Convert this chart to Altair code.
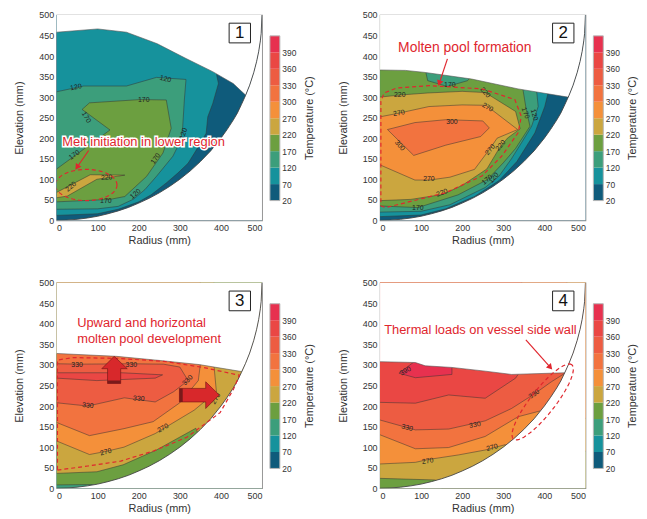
import math
import numpy as np
import pandas as pd
import altair as alt

# ---------------- data ----------------
LEVELS = [20, 70, 120, 170, 220, 270, 300, 330, 360, 390]
COLORS = ["#0f5b7b", "#16929c", "#3c9e7b", "#6c9f40", "#cba63f",
          "#f4903a", "#f2733f", "#ed5c42", "#ea4744", "#e7314f"]
CMAP = dict(zip(LEVELS, COLORS))
TICKS = list(range(0, 501, 50))
RED = "#e0262e"

# vessel wall
WALL = [(0, 0), (25, 0.6), (50, 2.5), (75, 5.7), (100, 10), (125, 16), (150, 23), (175, 31.5),
        (200, 42), (225, 53.5), (250, 67), (275, 82.5), (300, 100), (325, 120), (350, 143),
        (375, 169), (400, 200), (415, 221), (430, 244), (440, 261), (450, 282), (460, 304),
        (470, 329), (480, 360), (487, 387), (492, 411), (496, 437), (498, 455), (500, 500)]
FULL = [(-5, -5), (505, -5), (505, 505), (-5, 505)]

# ---- panel 1 ----
TOP1 = [(0, 458), (100, 466), (170, 458), (245, 430), (315, 394), (380, 362), (430, 333), (460, 305)]
P1 = [
    (20, FULL),
    (70, [(0, 12), (100, 16), (150, 27), (200, 45), (230, 62), (267, 91), (295, 115), (320, 139),
          (340, 171), (364, 212), (368, 252), (380, 284), (394, 333), (390, 352), (388, 505), (0, 505)]),
    (120, [(0, 27), (100, 28), (150, 34), (188, 52), (215, 75), (243, 107), (283, 156), (303, 196),
           (307, 228), (311, 293), (315, 343), (243, 348), (170, 327), (66, 327), (0, 313)]),
    (170, [(0, 45), (130, 51), (166, 58), (219, 107), (259, 164), (279, 224), (267, 293), (203, 294),
           (80, 286), (62, 270), (130, 220), (0, 125)]),
    (220, [(0, 68), (82, 111), (166, 110), (98, 100), (26, 59), (0, 55)]),
]
LBL1 = [("120", 47, 324, 350), ("120", 265, 344, 15), ("170", 212, 294, 0), ("170", 72, 251, 60),
        ("170", 43, 159, 325), ("170", 241, 150, 305), ("170", 120, 48, 0), ("120", 309, 211, 290),
        ("120", 192, 64, 320), ("220", 35, 82, 320), ("220", 122, 104, 355)]

# ---- panel 2 ----
TOP2 = [(0, 366), (62, 365), (110, 360), (223, 344), (336, 320), (457, 300)]
P2 = [
    (20, FULL),
    (70, [(0, 9), (100, 13), (160, 28), (230, 58), (290, 97), (333, 143), (377, 213), (401, 277),
          (409, 310), (409, 505), (0, 505)]),
    (120, [(0, 20), (100, 22), (170, 38), (256, 80), (290, 108), (320, 150), (345, 190), (369, 229),
           (385, 277), (381, 318), (381, 505), (0, 505)]),
    (170, [(0, 35), (92, 31), (190, 62), (261, 99), (300, 140), (330, 175), (365, 229), (356, 269),
           (348, 318), (348, 505), (222, 505), (220, 348), (213, 340), (164, 326), (116, 340),
           (112, 358), (112, 505), (0, 505)]),
    (220, [(0, 48), (75, 51), (152, 63), (200, 85), (260, 125), (290, 175), (310, 200), (341, 223),
           (330, 265), (256, 311), (200, 314), (116, 310), (48, 305), (0, 300)]),
    (270, [(0, 135), (85, 98), (120, 98), (170, 105), (230, 124), (268, 175), (285, 200), (335, 221),
           (258, 280), (200, 281), (119, 277), (46, 261), (0, 252)]),
    (300, [(18, 221), (85, 238), (160, 245), (250, 242), (266, 225), (245, 204), (160, 183), (82, 158)]),
]
LBL2 = [("170", 170, 329, 0), ("220", 48, 305, 0), ("220", 256, 311, 50), ("270", 46, 261, 350),
        ("270", 262, 275, 30), ("300", 175, 240, 0), ("300", 48, 182, 50), ("270", 268, 172, 310),
        ("220", 294, 182, 310), ("270", 119, 100, 0), ("220", 151, 67, 340), ("170", 92, 29, 0),
        ("170", 261, 99, 320), ("120", 277, 103, 310), ("170", 354, 261, 70), ("120", 375, 257, 75)]

# ---- panel 3 ----
TOP3 = [(0, 328), (146, 321), (251, 311), (347, 301), (450, 284)]
P3 = [
    (120, FULL),
    (170, [(0, 8), (90, 9), (120, 0), (505, 0), (505, 505), (0, 505)]),
    (220, [(0, 36), (98, 40), (162, 57), (243, 93), (339, 146), (350, 120), (505, 120), (505, 505), (0, 505)]),
    (270, [(0, 115), (80, 82), (122, 90), (164, 100), (240, 133), (335, 190), (389, 235), (383, 300),
           (383, 505), (0, 505)]),
    (300, [(0, 160), (80, 128), (164, 145), (235, 162), (300, 208), (345, 262), (350, 302), (350, 505), (0, 505)]),
    (330, [(0, 208), (76, 200), (165, 220), (240, 210), (285, 235), (320, 262), (300, 295), (260, 302),
           (180, 303), (56, 302), (0, 303)]),
    (360, [(0, 281), (160, 281), (258, 276), (240, 268), (98, 262), (0, 268)]),
]
LBL3 = [("330", 50, 301, 0), ("330", 182, 301, 0), ("330", 76, 201, 5), ("330", 200, 218, 5),
        ("330", 319, 263, 315), ("270", 120, 88, 345), ("270", 259, 146, 330), ("270", 388, 218, 300)]
ARROW_UP = [(124, 255), (156, 255), (156, 291), (172, 291), (140, 321), (110, 291), (124, 291)]
ARROW_UP_BASE = [(124, 255), (156, 255), (156, 262), (124, 262)]
ARROW_RT = [(299, 210), (363, 210), (363, 194), (396, 227), (363, 259), (363, 243), (299, 243)]
ARROW_RT_BASE = [(299, 210), (307, 210), (307, 243), (299, 243)]

# ---- panel 4 ----
TOP4 = [(0, 308), (86, 306), (110, 298), (175, 294), (256, 285), (320, 277), (450, 281)]
P4 = [
    (170, FULL),
    (220, [(0, 24), (135, 20), (150, 0), (505, 0), (505, 505), (0, 505)]),
    (270, [(0, 59), (86, 63), (118, 70), (191, 81), (256, 93), (305, 106), (320, 90), (505, 90), (505, 505), (0, 505)]),
    (300, [(0, 130), (86, 96), (167, 99), (256, 126), (336, 174), (389, 188), (400, 170), (505, 170), (505, 505), (0, 505)]),
    (330, [(0, 166), (86, 142), (167, 144), (256, 164), (320, 194), (375, 229), (417, 259), (455, 283), (455, 505), (0, 505)]),
    (360, [(0, 209), (86, 207), (167, 227), (256, 219), (330, 268), (345, 290), (345, 505), (0, 505)]),
    (390, [(46, 280), (86, 310), (175, 310), (175, 277), (86, 269)]),
]
LBL4 = [("390", 62, 285, 330), ("330", 66, 147, 15), ("330", 231, 154, 350), ("330", 375, 229, 325),
        ("270", 116, 66, 350), ("270", 273, 99, 345)]

# annotations
DASH2 = [(2, 35), (14, 31), (62, 43), (159, 67), (248, 108), (296, 156), (336, 213), (344, 253),
         (328, 294), (248, 320), (119, 328), (40, 322), (10, 310), (2, 290), (2, 35)]
DASH3 = [(2, 44), (76, 54), (156, 66), (237, 91), (317, 124), (398, 184), (430, 240), (445, 275),
         (357, 294), (261, 309), (150, 316), (40, 318), (2, 312), (2, 44)]
ELL1 = (72, 86, 75, 38, 0)       # cx, cy, rx, ry, rotation
ELL4 = (396, 210, 115, 30, 52)
ARROW1 = [(78, 170), (51, 131)]
ARROW2 = [(164, 393), (145, 336)]
ARROW4 = [(355, 361), (413, 296)]
TEXT1 = [("Melt initiation in lower region", 14, 190)]
TEXT2 = [("Molten pool formation", 44, 420)]
TEXT3 = [("Upward and horizontal", 50, 403), ("molten pool development", 50, 363)]
TEXT4 = [("Thermal loads on vessel side wall", 10, 384)]
BOX = (420, 432, 472, 480)
CB_TITLE = "Temperature (°C)"

# ---------------- helpers ----------------
FONT = "Liberation Sans"
XSC = alt.Scale(domain=[0, 500], nice=False, zero=False)
YSC = alt.Scale(domain=[0, 500], nice=False, zero=False)
XAX = alt.Axis(values=TICKS, title="Radius (mm)", titlePadding=2)
YAX = alt.Axis(values=TICKS, title="Elevation (mm)", titlePadding=14)


def XE(f="x"):
    return alt.X(f + ":Q", scale=XSC, axis=XAX)


def YE(f="y"):
    return alt.Y(f + ":Q", scale=YSC, axis=YAX)


def frame(pts):
    return pd.DataFrame({"x": [float(p[0]) for p in pts], "y": [float(p[1]) for p in pts],
                         "i": list(range(len(pts)))})


def poly(pts, fill, stroke=None, sw=0.5):
    pts = list(pts)
    if not (pts[0][0] <= 0 and pts[-1][0] <= 0):
        pts = pts + [pts[0]]
    kw = dict(fill=fill, clip=True, strokeWidth=sw)
    if stroke:
        kw["stroke"] = stroke
    else:
        kw["strokeOpacity"] = 0
    return alt.Chart(frame(pts)).mark_line(**kw).encode(x=XE(), y=YE(), order=alt.Order("i:Q"))


def line(pts, color, sw=1.0, dash=None):
    kw = dict(color=color, strokeWidth=sw, clip=True)
    if dash:
        kw["strokeDash"] = dash
    return alt.Chart(frame(pts)).mark_line(**kw).encode(x=XE(), y=YE(), order=alt.Order("i:Q"))


def ellipse(e, n=60):
    cx, cy, rx, ry, rot = e
    t = np.linspace(0, 2 * np.pi, n)
    r = math.radians(rot)
    xs = cx + rx * np.cos(t) * math.cos(r) - ry * np.sin(t) * math.sin(r)
    ys = cy + rx * np.cos(t) * math.sin(r) + ry * np.sin(t) * math.cos(r)
    return list(zip(xs, ys))


def arrow(a):
    (x0, y0), (x1, y1) = a
    ang = math.degrees(math.atan2(x1 - x0, y1 - y0)) % 360
    shaft = line(a, RED, 1.2)
    head = alt.Chart(pd.DataFrame({"x": [x1], "y": [y1], "a": [ang]})).mark_point(
        shape="triangle", size=45, filled=True, color=RED, opacity=1).encode(
        x=XE(), y=YE(), angle=alt.Angle("a:Q", scale=None))
    return [shaft, head]


def labels(lbl):
    df = pd.DataFrame(lbl, columns=["t", "x", "y", "a"])
    return alt.Chart(df).mark_text(font=FONT, fontSize=7, color="#222").encode(
        x=XE(), y=YE(), text="t:N", angle=alt.Angle("a:Q", scale=None))


def texts(tx, size, halo=False):
    df = pd.DataFrame(tx, columns=["t", "x", "y"])
    out = []
    if halo:
        out.append(alt.Chart(df).mark_text(font=FONT, fontSize=size, align="left", baseline="middle",
                                           color="white", stroke="white", strokeWidth=3).encode(
            x=XE(), y=YE(), text="t:N"))
    out.append(alt.Chart(df).mark_text(font=FONT, fontSize=size, align="left", baseline="middle",
                                       color=RED).encode(x=XE(), y=YE(), text="t:N"))
    return out


def numbox(n):
    x0, y0, x1, y1 = BOX
    df = pd.DataFrame({"x": [x0], "x2": [x1], "y": [y0], "y2": [y1],
                       "cx": [(x0 + x1) / 2], "cy": [(y0 + y1) / 2], "t": [str(n)]})
    r = alt.Chart(df).mark_rect(fill="white", stroke="#222", strokeWidth=1).encode(
        x=XE(), x2="x2:Q", y=YE(), y2="y2:Q")
    t = alt.Chart(df).mark_text(font=FONT, fontSize=17, color="#111").encode(
        x=XE("cx"), y=YE("cy"), text="t:N")
    return [r, t]


def colorbar():
    df = pd.DataFrame({"lo": list(range(10)), "hi": list(range(1, 11)), "c": COLORS})
    lab = "[" + ",".join("'%d'" % v for v in LEVELS) + "][datum.value]"
    ysc = alt.Scale(domain=[-1.2, 11.27], nice=False, zero=False)
    yax = alt.Axis(orient="right", offset=18, values=list(range(10)), labelExpr=lab,
                   ticks=False, domain=False, grid=False, title=None,
                   labelFontSize=8.5, labelPadding=2, labelOverlap=False, labelFlush=False)
    bars = alt.Chart(df).mark_rect().encode(
        y=alt.Y("lo:Q", scale=ysc, axis=yax), y2="hi:Q",
        x=alt.value(215), x2=alt.value(225), fill=alt.Fill("c:N", scale=None))
    out = alt.Chart(pd.DataFrame({"lo": [0], "hi": [10]})).mark_rect(
        fillOpacity=0, stroke="#b5b5b5", strokeWidth=1).encode(
        y=alt.Y("lo:Q", scale=ysc, axis=yax), y2="hi:Q", x=alt.value(215), x2=alt.value(225))
    ttl = alt.Chart(pd.DataFrame({"t": [CB_TITLE]})).mark_text(
        font=FONT, fontSize=11, angle=270, color="#333", align="center", baseline="middle").encode(
        x=alt.value(255), y=alt.value(104), text="t:N")
    return alt.layer(bars, out, ttl)


def panel(bands, top, lbl, n, extras):
    layers = []
    for k, (lvl, pts) in enumerate(bands):
        layers.append(poly(pts, CMAP[lvl], stroke=None if k == 0 else "#333333", sw=0.5))
    layers.append(labels(lbl))
    # white masks outside the vessel and above the free surface
    maskA = WALL + [(505, 505), (505, -5), (-5, -5)]
    xe = top[-1][0]
    maskB = list(top) + [p for p in WALL if p[0] > xe] + [(505, 505), (-5, 505), (-5, top[0][1])]
    layers.append(poly(maskA, "white"))
    layers.append(poly(maskB, "white"))
    layers.append(line(top, "#555555", 0.6))
    layers.append(line(WALL, "#444444", 0.9))
    layers += extras
    layers += numbox(n)
    return alt.layer(alt.layer(*layers), colorbar()).resolve_scale(y="independent").properties(
        width=207, height=207, view=alt.ViewBackground(stroke="#8c8c8c", strokeWidth=1.2))


ex1 = [line(ellipse(ELL1), RED, 1.2, [4, 3])] + arrow(ARROW1) + texts(TEXT1, 13, halo=True)
ex2 = [line(DASH2, RED, 1.2, [4, 3])] + arrow(ARROW2) + texts(TEXT2, 14)
ex3 = [line(DASH3, RED, 1.2, [4, 3]),
       poly(ARROW_UP, "#d8282b", "#6a1212", 0.6), poly(ARROW_UP_BASE, "#7a1a1a"),
       poly(ARROW_RT, "#d8282b", "#6a1212", 0.6), poly(ARROW_RT_BASE, "#7a1a1a")] + texts(TEXT3, 13)
ex4 = [line(ellipse(ELL4), RED, 1.2, [4, 3])] + arrow(ARROW4) + texts(TEXT4, 13)

p1 = panel(P1, TOP1, LBL1, 1, ex1)
p2 = panel(P2, TOP2, LBL2, 2, ex2)
p3 = panel(P3, TOP3, LBL3, 3, ex3)
p4 = panel(P4, TOP4, LBL4, 4, ex4)

row1 = alt.hconcat(p1, p2, spacing=21)
row2 = alt.hconcat(p3, p4, spacing=21)

chart = alt.vconcat(row1, row2, spacing=32).properties(
    padding={"left": 5, "top": 0, "right": 0, "bottom": 0}
).configure_view(stroke=None).configure_axis(
    labelFont=FONT, titleFont=FONT, labelFontSize=9, titleFontSize=11, titleFontWeight="normal",
    labelColor="#333", titleColor="#333", ticks=False, domain=False, grid=False,
    labelPadding=3
)

chart.save("out.html", embed_options={"renderer": "svg", "actions": False})
